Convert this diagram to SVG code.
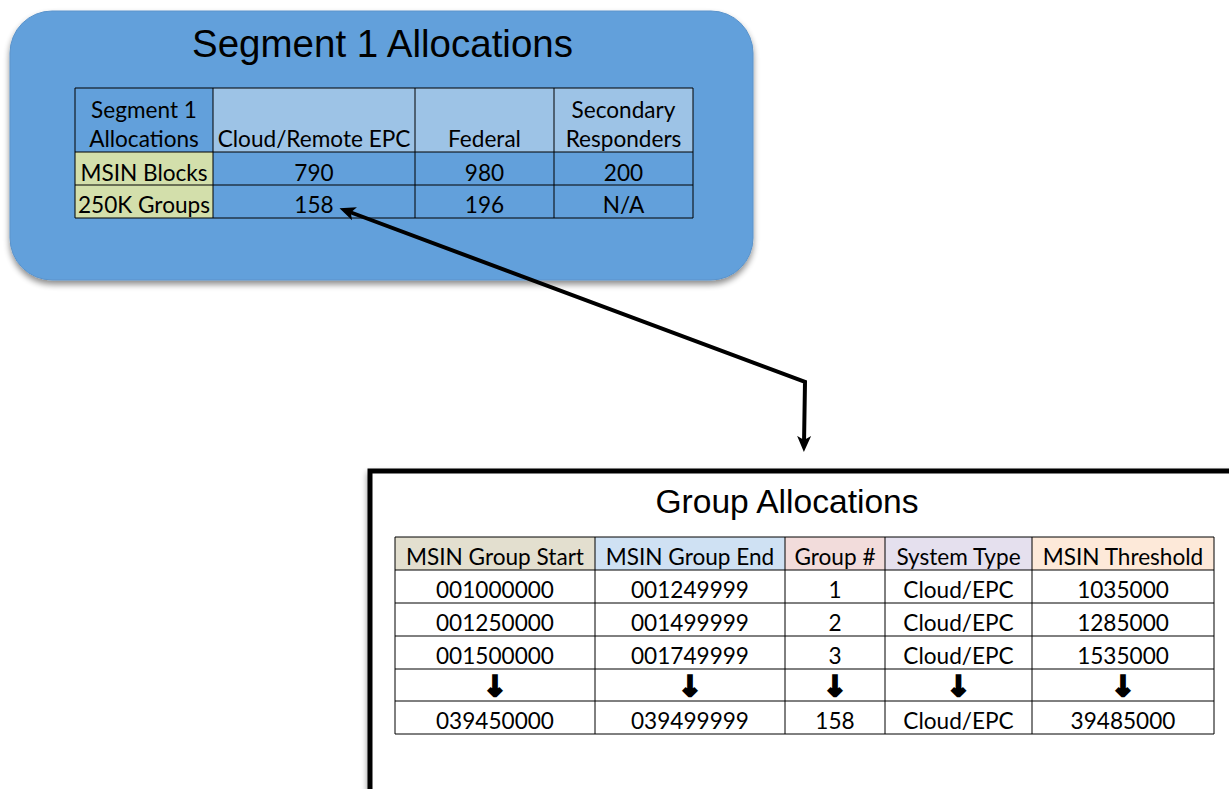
<svg xmlns="http://www.w3.org/2000/svg" width="1229" height="789" viewBox="0 0 1229 789">
<style>
.t{font-family:Lato,"Open Sans","Liberation Sans",sans-serif;font-size:22.6px;fill:#000;text-anchor:middle}
.title{font-family:"Liberation Sans",Arial,sans-serif;fill:#000;text-anchor:middle}
.g{stroke:#000;stroke-width:1;fill:none}
.arr{font-family:"DejaVu Sans",sans-serif;font-weight:bold;font-size:28px;text-anchor:middle;fill:#000;stroke:#000;stroke-width:2.4;stroke-linejoin:miter}
</style>
<defs>
<filter id="sh" x="-5%" y="-5%" width="110%" height="120%">
<feGaussianBlur in="SourceAlpha" stdDeviation="3"/>
<feOffset dx="0" dy="4" result="b"/>
<feComponentTransfer><feFuncA type="linear" slope="0.45"/></feComponentTransfer>
<feMerge><feMergeNode/><feMergeNode in="SourceGraphic"/></feMerge>
</filter>
<marker id="ah" viewBox="0 0 16 16" refX="8" refY="8" markerWidth="16" markerHeight="16" markerUnits="userSpaceOnUse" orient="auto-start-reverse">
<path d="M0,1 L16,8 L0,15 L4,8 z" fill="#000"/>
</marker>
</defs>

<g id="segment1">
<rect x="10" y="11" width="743" height="269" rx="42" ry="42" fill="#62A0DB" stroke="#5A93CB" stroke-width="1" filter="url(#sh)"/>
<text class="title" x="382.5" y="57" font-size="38.5">Segment 1 Allocations</text>
<g id="seg-table">
<rect x="213" y="88" width="480" height="64" fill="#9DC3E6"/>
<rect x="75" y="152" width="138" height="66" fill="#D3DFAB"/>
<path class="g" d="M75,88H693V218H75Z M75,152H693 M75,185H693 M213,88V218 M415,88V218 M554,88V218"/>
<text class="t" x="144" y="118">Segment 1</text>
<text class="t" x="144" y="147">Allocations</text>
<text class="t" x="314" y="147">Cloud/Remote EPC</text>
<text class="t" x="484.5" y="147">Federal</text>
<text class="t" x="623.5" y="118">Secondary</text>
<text class="t" x="623.5" y="147">Responders</text>
<text class="t" x="144" y="181">MSIN Blocks</text>
<text class="t" x="314" y="181">790</text>
<text class="t" x="484.5" y="181">980</text>
<text class="t" x="623.5" y="181">200</text>
<text class="t" x="144" y="213">250K Groups</text>
<text class="t" x="314" y="213">158</text>
<text class="t" x="484.5" y="213">196</text>
<text class="t" x="623.5" y="213">N/A</text>
</g>
</g>

<g id="group-allocations">
<rect x="370" y="471" width="1000" height="400" fill="#fff" stroke="#000" stroke-width="5" filter="url(#sh)"/>
<text class="title" x="787" y="513" font-size="33.6">Group Allocations</text>
<g id="grp-table">
<rect x="395" y="537" width="200" height="33" fill="#E3DFCF"/>
<rect x="595" y="537" width="190" height="33" fill="#CFE1F3"/>
<rect x="785" y="537" width="100" height="33" fill="#F2DCDB"/>
<rect x="885" y="537" width="147" height="33" fill="#E5E0EE"/>
<rect x="1032" y="537" width="182" height="33" fill="#FDE9D9"/>
<path class="g" d="M395,537H1214V734H395Z M395,570H1214 M395,603H1214 M395,636H1214 M395,669H1214 M395,701H1214 M595,537V734 M785,537V734 M885,537V734 M1032,537V734"/>
<text class="t" x="495" y="565">MSIN Group Start</text>
<text class="t" x="690" y="565">MSIN Group End</text>
<text class="t" x="835" y="565">Group #</text>
<text class="t" x="958.5" y="565">System Type</text>
<text class="t" x="1123" y="565">MSIN Threshold</text>
<text class="t" x="495" y="598">001000000</text>
<text class="t" x="690" y="598">001249999</text>
<text class="t" x="835" y="598">1</text>
<text class="t" x="958.5" y="598">Cloud/EPC</text>
<text class="t" x="1123" y="598">1035000</text>
<text class="t" x="495" y="631">001250000</text>
<text class="t" x="690" y="631">001499999</text>
<text class="t" x="835" y="631">2</text>
<text class="t" x="958.5" y="631">Cloud/EPC</text>
<text class="t" x="1123" y="631">1285000</text>
<text class="t" x="495" y="664">001500000</text>
<text class="t" x="690" y="664">001749999</text>
<text class="t" x="835" y="664">3</text>
<text class="t" x="958.5" y="664">Cloud/EPC</text>
<text class="t" x="1123" y="664">1535000</text>
<text class="arr" x="495" y="696">↓</text>
<text class="arr" x="690" y="696">↓</text>
<text class="arr" x="835" y="696">↓</text>
<text class="arr" x="958.5" y="696">↓</text>
<text class="arr" x="1123" y="696">↓</text>
<text class="t" x="495" y="729">039450000</text>
<text class="t" x="690" y="729">039499999</text>
<text class="t" x="835" y="729">158</text>
<text class="t" x="958.5" y="729">Cloud/EPC</text>
<text class="t" x="1123" y="729">39485000</text>
</g>
</g>

<g id="connectors">
<path d="M347,211 L805,382 L804,444" fill="none" stroke="#000" stroke-width="4" stroke-linejoin="miter" marker-start="url(#ah)" marker-end="url(#ah)"/>
</g>
</svg>
